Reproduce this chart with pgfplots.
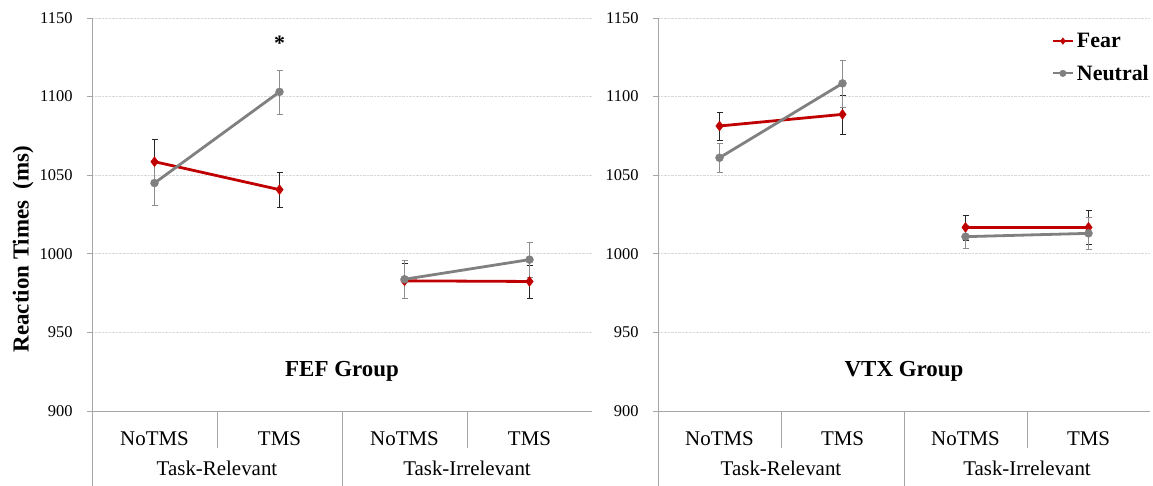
\documentclass[border=0pt]{standalone}
\usepackage{pgfplots}
\pgfplotsset{compat=1.18}
\usepackage{fontspec}
\setmainfont{Liberation Serif}
\definecolor{fearred}{RGB}{192,0,0}
\definecolor{neugray}{RGB}{128,128,128}
\definecolor{axgray}{RGB}{166,166,166}
\tikzset{seps/.style={axgray, line width=1bp}}
\pgfplotsset{
 panel/.style={
  scale only axis, height=393bp,
  xmin=-0.5, xmax=3.5, ymin=900, ymax=1150,
  ytick={900,950,1000,1050,1100,1150},
  xtick={0,1,2,3}, xticklabels={NoTMS,TMS,NoTMS,TMS},
  axis lines*=left,
  axis line style={axgray, line width=1bp},
  xtick style={draw=none},
  ytick style={axgray, line width=0.8bp},
  tick align=outside, major tick length=5bp,
  ymajorgrids, grid style={densely dotted, black!15, line width=0.6bp},
  yticklabel style={font=\fontsize{16.5}{19}\selectfont, xshift=-11bp},
  xticklabel style={font=\fontsize{21}{25}\selectfont, anchor=center, yshift=-23bp},
  /pgf/number format/assume math mode=true,
  /pgf/number format/1000 sep={},
  clip=false,
  legend cell align=left,
  legend image code/.code={\draw[mark repeat=2,mark phase=2,##1, line width=2.2bp, mark size=3.3bp] plot coordinates {(0bp,0bp) (10bp,0bp) (20bp,0bp)};},
 },
 fear/.style={color=fearred, line width=2.8bp, mark=diamond*, mark size=5bp,
   mark options={solid, fill=fearred, line width=0.4bp},
   error bars/y dir=both, error bars/y explicit,
   error bars/error bar style={black!85, line width=1bp, mark size=3bp}},
 neutral/.style={color=neugray, line width=2.8bp, mark=*, mark size=4bp,
   mark options={solid, fill=neugray, line width=0.4bp},
   error bars/y dir=both, error bars/y explicit,
   error bars/error bar style={neugray!90, line width=1bp, mark size=3bp}},
}
\begin{document}
\begin{tikzpicture}
\useasboundingbox (0,0) rectangle (1153bp,486bp);
\node[rotate=90, font=\bfseries\fontsize{23}{26}\selectfont] at (23bp,237bp) {Reaction Times\ \ (ms)};
% ---------------- FEF panel ----------------
\begin{axis}[panel, width=500bp, at={(92bp,75bp)}, anchor=south west]
\addplot[fear] coordinates {(0,1058.6) +- (0,14.4) (1,1040.8) +- (0,11.4)};
\addplot[fear] coordinates {(2,982.8) +- (0,11.0) (3,982.4) +- (0,10.4)};
\addplot[neutral] coordinates {(0,1045.0) +- (0,14.0) (1,1103.0) +- (0,13.9)};
\addplot[neutral] coordinates {(2,983.8) +- (0,12.0) (3,996.3) +- (0,11.0)};
\node[font=\bfseries\fontsize{22}{24}\selectfont] at (axis cs:1,1134) {*};
\node[font=\bfseries\fontsize{23}{26}\selectfont] at (axis cs:1.5,925) {FEF Group};
\draw[seps] (axis cs:-0.5,900) -- ++(0bp,-75bp);
\draw[seps] (axis cs:0.5,900) -- ++(0bp,-37bp);
\draw[seps] (axis cs:1.5,900) -- ++(0bp,-75bp);
\draw[seps] (axis cs:2.5,900) -- ++(0bp,-37bp);
\node[font=\fontsize{21}{25}\selectfont] at ([yshift=-57bp]axis cs:0.5,900) {Task-Relevant};
\node[font=\fontsize{21}{25}\selectfont] at ([yshift=-57bp]axis cs:2.5,900) {Task-Irrelevant};
\end{axis}
% ---------------- VTX panel ----------------
\begin{axis}[panel, width=492bp, at={(658bp,75bp)}, anchor=south west,
  legend style={at={(1,1)}, anchor=north east, yshift=-13bp, xshift=1bp, draw=none, fill=none,
    inner sep=0pt, row sep=12bp, font=\bfseries\fontsize{22}{24}\selectfont,
    /tikz/every odd column/.append style={column sep=1bp}}]
\addplot[fear] coordinates {(0,1081.3) +- (0,8.9) (1,1088.7) +- (0,12.5)};
\addlegendentry{Fear}
\addplot[fear, forget plot] coordinates {(2,1016.8) +- (0,8.0) (3,1016.8) +- (0,11.0)};
\addplot[neutral] coordinates {(0,1061.1) +- (0,9.0) (1,1108.4) +- (0,14.9)};
\addlegendentry{Neutral}
\addplot[neutral, forget plot] coordinates {(2,1010.9) +- (0,7.4) (3,1013.0) +- (0,10.0)};
\node[font=\bfseries\fontsize{23}{26}\selectfont] at (axis cs:1.5,925) {VTX Group};
\draw[seps] (axis cs:-0.5,900) -- ++(0bp,-75bp);
\draw[seps] (axis cs:0.5,900) -- ++(0bp,-37bp);
\draw[seps] (axis cs:1.5,900) -- ++(0bp,-75bp);
\draw[seps] (axis cs:2.5,900) -- ++(0bp,-37bp);
\node[font=\fontsize{21}{25}\selectfont] at ([yshift=-57bp]axis cs:0.5,900) {Task-Relevant};
\node[font=\fontsize{21}{25}\selectfont] at ([yshift=-57bp]axis cs:2.5,900) {Task-Irrelevant};
\end{axis}
\end{tikzpicture}
\end{document}
